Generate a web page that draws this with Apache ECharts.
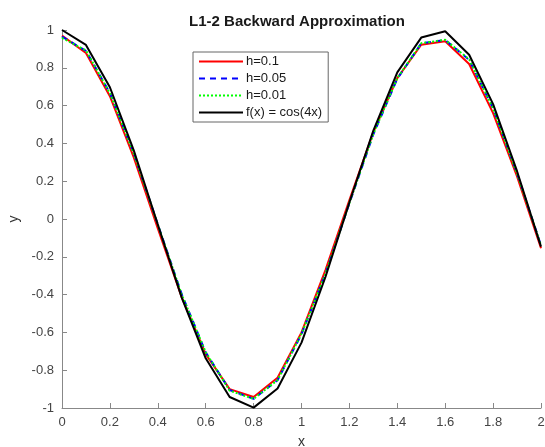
<!DOCTYPE html>
<html><head><meta charset="utf-8">
<script src="https://cdn.jsdelivr.net/npm/echarts@6/dist/echarts.min.js"></script>
<style>html,body{margin:0;padding:0;background:#fff}#c{width:545px;height:447px}</style>
</head><body><div id="c"></div>
<script>
const xs = [0,0.1,0.2,0.3,0.4,0.5,0.6,0.7,0.8,0.9,1.0,1.1,1.2,1.3,1.4,1.5,1.6,1.7,1.8,1.9,2.0];
const h01  = [0.97,0.878,0.65,0.325,-0.05,-0.415,-0.715,-0.90,-0.942,-0.84,-0.60,-0.27,0.10,0.46,0.745,0.922,0.94,0.82,0.56,0.225,-0.155];
const h005 = [0.965,0.89,0.667,0.347,-0.028,-0.398,-0.705,-0.905,-0.952,-0.853,-0.61,-0.29,0.083,0.448,0.742,0.93,0.947,0.842,0.585,0.242,-0.14];
const h001 = [0.958,0.892,0.665,0.345,-0.03,-0.40,-0.705,-0.908,-0.952,-0.852,-0.608,-0.29,0.085,0.45,0.745,0.93,0.948,0.845,0.585,0.24,-0.14];
const fx   = [1.0,0.921,0.697,0.362,-0.029,-0.416,-0.737,-0.942,-0.998,-0.897,-0.654,-0.307,0.087,0.468,0.776,0.960,0.993,0.869,0.608,0.253,-0.146];
const names = ['h=0.1','h=0.05','h=0.01','f(x) = cos(4x)'];
const pair = a => xs.map((x,i)=>[x,a[i]]);
const font = 'Liberation Sans, Arial, Helvetica, sans-serif';
const chart = echarts.init(document.getElementById('c'));
const mk = (name, data, color, type) => ({
  name, type:'line', data:pair(data), symbol:'none', animation:false,
  lineStyle:{color, width:2, type}, itemStyle:{color}
});
chart.setOption({
  animation:false,
  title:{text:'L1-2 Backward Approximation', left:292, top:9, textAlign:'center',
    textStyle:{fontFamily:font, fontSize:15, fontWeight:'bold', color:'#1a1a1a'}},
  grid:{left:62, right:4, top:30, bottom:39, outerBoundsMode:'none', containLabel:false},
  legend:{orient:'vertical', left:193, top:52, data:names,
    itemWidth:44, itemHeight:10, itemGap:4, padding:[3,6,3,5],
    itemStyle:{opacity:0},
    borderColor:'#666', borderWidth:1, backgroundColor:'#fff', borderRadius:0,
    textStyle:{fontFamily:font, fontSize:13, color:'#1a1a1a', padding:[0,0,0,-2]}},
  xAxis:{type:'value', min:0, max:2, interval:0.2, name:'x', nameLocation:'middle', nameGap:27,
    nameTextStyle:{fontFamily:font, fontSize:14, color:'#333'},
    axisLine:{onZero:false, lineStyle:{color:'#888'}}, axisTick:{inside:true, length:5, lineStyle:{color:'#888'}},
    axisLabel:{fontFamily:font, fontSize:13, color:'#444', margin:8}, splitLine:{show:false}},
  yAxis:{type:'value', min:-1, max:1, interval:0.2, name:'y', nameLocation:'middle', nameGap:31,
    nameTextStyle:{fontFamily:font, fontSize:14, color:'#333'},
    axisLine:{show:true, onZero:false, lineStyle:{color:'#888'}}, axisTick:{show:true, inside:true, length:5, lineStyle:{color:'#888'}},
    axisLabel:{fontFamily:font, fontSize:13, color:'#444', margin:8}, splitLine:{show:false}},
  series:[
    mk(names[0], h01, '#ff0000', 'solid'),
    mk(names[1], h005, '#0000ff', [6,5]),
    mk(names[2], h001, '#00ff00', [2,2]),
    mk(names[3], fx, '#000000', 'solid')
  ]
});
</script></body></html>
